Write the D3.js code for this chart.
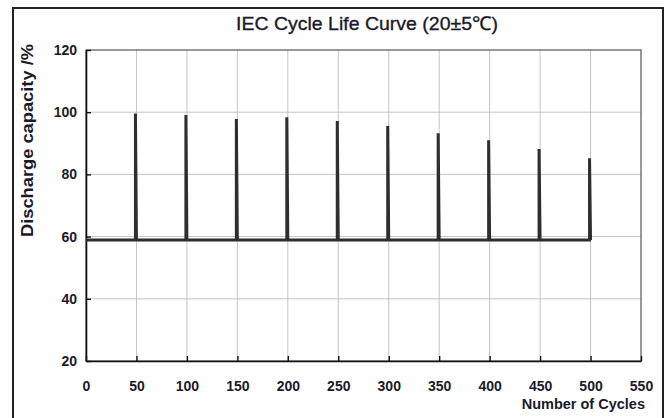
<!DOCTYPE html>
<html>
<head>
<meta charset="utf-8">
<script src="https://cdn.jsdelivr.net/npm/d3@7"></script>
<style>
  body { margin: 0; background: #fff; }
  svg { display: block; font-family: "Liberation Sans", Arial, sans-serif; }
</style>
</head>
<body>
<div id="chart"></div>
<script>
// data
const xTicks = [0, 50, 100, 150, 200, 250, 300, 350, 400, 450, 500, 550];
const yTicks = [20, 40, 60, 80, 100, 120];
const checkCycles = [50, 100, 150, 200, 250, 300, 350, 400, 450, 500];
const checkCapacity = [99.6, 99.1, 97.8, 98.4, 97.2, 95.6, 93.2, 91.0, 88.2, 85.2];
const baseCapacity = 58.9;

const width = 668, height = 418;
const margin = { left: 86, right: 27, top: 50, bottom: 57 };

const svg = d3.select("#chart").append("svg")
  .attr("width", width)
  .attr("height", height);

// outer frame
svg.append("rect")
  .attr("x", 13).attr("y", 8)
  .attr("width", 650).attr("height", 430)
  .attr("fill", "none")
  .attr("stroke", "#222")
  .attr("stroke-width", 2);

const x = d3.scaleLinear().domain([0, 550]).range([margin.left, width - margin.right]);
const y = d3.scaleLinear().domain([20, 120]).range([height - margin.bottom, margin.top]);

// grid
svg.append("g").selectAll("line")
  .data(xTicks.slice(1, -1))
  .join("line")
  .attr("x1", d => x(d)).attr("x2", d => x(d))
  .attr("y1", y(120)).attr("y2", y(20))
  .attr("stroke", "#c4c4c4").attr("stroke-width", 1);

svg.append("g").selectAll("line")
  .data(yTicks.slice(1, -1))
  .join("line")
  .attr("x1", x(0)).attr("x2", x(550))
  .attr("y1", d => y(d)).attr("y2", d => y(d))
  .attr("stroke", "#c4c4c4").attr("stroke-width", 1);

// right and top frame of plot area
svg.append("rect")
  .attr("x", x(0)).attr("y", y(120))
  .attr("width", x(550) - x(0)).attr("height", y(20) - y(120))
  .attr("fill", "none")
  .attr("stroke", "#555").attr("stroke-width", 1.2);

// axes, ticks pointing inward
const xAxis = svg.append("g")
  .attr("transform", `translate(0,${y(20)})`)
  .call(d3.axisBottom(x).tickValues(xTicks).tickSizeInner(-5).tickSizeOuter(0).tickPadding(20));
const yAxis = svg.append("g")
  .attr("transform", `translate(${x(0)},0)`)
  .call(d3.axisLeft(y).tickValues(yTicks).tickSizeInner(-5).tickSizeOuter(0).tickPadding(9));

[xAxis, yAxis].forEach(a => {
  a.select(".domain").attr("stroke", "#111").attr("stroke-width", 1.6);
  a.selectAll(".tick line").attr("stroke", "#111").attr("stroke-width", 1.4);
  a.selectAll(".tick text")
    .attr("fill", "#1a1a2a")
    .style("font-size", "14px")
    .style("font-weight", "bold")
    .style("font-family", "'Liberation Sans', Arial, sans-serif");
});

// capacity line: baseline with a spike at every check cycle
const pts = [[0, baseCapacity]];
checkCycles.forEach((c, i) => {
  pts.push([c - 1, baseCapacity], [c - 1, checkCapacity[i]], [c, baseCapacity]);
});
pts.push([checkCycles[checkCycles.length - 1], baseCapacity]);

svg.append("path")
  .datum(pts)
  .attr("fill", "none")
  .attr("stroke", "#2e2e2e")
  .attr("stroke-width", 3)
  .attr("stroke-linejoin", "miter")
  .attr("d", d3.line().x(d => x(d[0])).y(d => y(d[1])));

// titles
svg.append("text")
  .attr("x", 367).attr("y", 30)
  .attr("text-anchor", "middle")
  .attr("fill", "#1a1a2a")
  .attr("stroke", "#1a1a2a")
  .attr("stroke-width", 0.35)
  .attr("textLength", 262)
  .attr("lengthAdjust", "spacingAndGlyphs")
  .style("font-size", "19px")
  .text("IEC Cycle Life Curve (20±5℃)");

svg.append("text")
  .attr("transform", `translate(33,${(44 + 237) / 2}) rotate(-90)`)
  .attr("text-anchor", "middle")
  .attr("fill", "#1a1a2a")
  .attr("textLength", 193)
  .attr("lengthAdjust", "spacingAndGlyphs")
  .style("font-size", "17px")
  .style("font-weight", "bold")
  .text("Discharge capacity /%");

svg.append("text")
  .attr("x", 645).attr("y", 409)
  .attr("text-anchor", "end")
  .attr("fill", "#1a1a2a")
  .style("font-size", "14.5px")
  .style("font-weight", "bold")
  .text("Number of Cycles");
</script>
</body>
</html>
